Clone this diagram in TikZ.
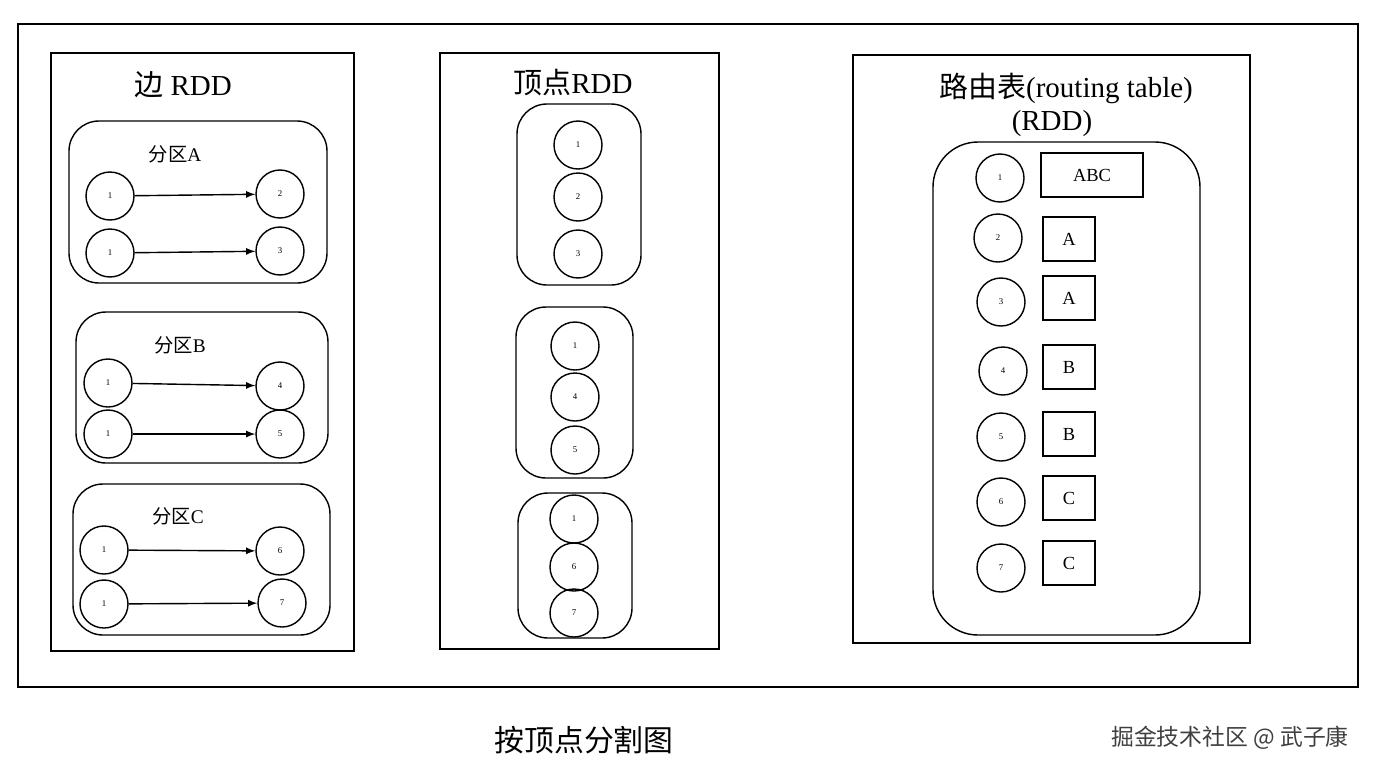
\documentclass[tikz,border=0pt]{standalone}
\usepackage{fontspec}
\setmainfont{Liberation Serif}
\newfontfamily\cjk{Noto Sans CJK SC}
\begin{document}
\begin{tikzpicture}[x=0.02cm,y=-0.02cm,
  vc/.style={draw,circle,minimum size=0.96cm,inner sep=0pt,font=\fontsize{5}{6}\selectfont,line width=0.8pt},
  part/.style={draw,rounded corners=0.6cm,line width=0.8pt},
  tag/.style={draw,minimum width=1.04cm,minimum height=0.88cm,inner sep=0pt,font=\fontsize{10.5}{12}\selectfont,line width=0.8pt},
  ttl/.style={font=\fontsize{16.5}{18}\selectfont},
  plab/.style={font=\fontsize{11}{12}\selectfont},
  ed/.style={-latex,line width=0.8pt}]
\useasboundingbox (0,0) rectangle (1376,772);
\draw[line width=0.6pt] (18,24) rectangle (1358,687);
% panel 1
\draw[line width=0.6pt] (51,53) rectangle (354,651);
\node[ttl] (t1) at (183,85) {{\cjk 边} RDD};
\draw[part] (69,121) rectangle (327,283);
\node[plab] (pa) at (175,154) {{\cjk 分区}A};
\node[vc] (a1) at (110,196) {1}; \node[vc] (a2) at (280,194) {2};
\node[vc] (a3) at (110,253) {1}; \node[vc] (a4) at (280,251) {3};
\draw[ed] (a1)--(a2); \draw[ed] (a3)--(a4);
\draw[part] (76,312) rectangle (328,463);
\node[plab] (pb) at (180,345) {{\cjk 分区}B};
\node[vc] (b1) at (108,383) {1}; \node[vc] (b2) at (280,386) {4};
\node[vc] (b3) at (108,434) {1}; \node[vc] (b4) at (280,434) {5};
\draw[ed] (b1)--(b2); \draw[ed] (b3)--(b4);
\draw[part] (73,484) rectangle (330,635);
\node[plab] (pc) at (178,516) {{\cjk 分区}C};
\node[vc] (c1) at (104,550) {1}; \node[vc] (c2) at (280,551) {6};
\node[vc] (c3) at (104,604) {1}; \node[vc] (c4) at (282,603) {7};
\draw[ed] (c1)--(c2); \draw[ed] (c3)--(c4);
% panel 2
\draw[line width=0.6pt] (440,53) rectangle (719,649);
\node[ttl] (t2) at (573,83) {{\cjk 顶点}RDD};
\draw[part] (517,104) rectangle (641,285);
\node[vc] (v1) at (578,145) {1}; \node[vc] (v2) at (578,197) {2}; \node[vc] (v3) at (578,254) {3};
\draw[part] (516,307) rectangle (633,478);
\node[vc] (v4) at (575,346) {1}; \node[vc] (v5) at (575,397) {4}; \node[vc] (v6) at (575,450) {5};
\draw[part] (518,493) rectangle (632,638);
\node[vc] (v7) at (574,519) {1}; \node[vc] (v8) at (574,567) {6}; \node[vc] (v9) at (574,613) {7};
% panel 3
\draw[line width=0.6pt] (853,55) rectangle (1250,643);
\node[ttl] (t3) at (1066,88) {{\cjk 路由表}(routing table)};
\node[ttl] (t4) at (1052,124) {(RDD)};
\draw[part,rounded corners=0.9cm] (933,142) rectangle (1200,635);
\node[vc] (r1) at (1000,178) {1}; \node[tag,minimum width=2.04cm] (s1) at (1092,175) {ABC};
\node[vc] (r2) at (998,238) {2}; \node[tag] (s2) at (1069,239) {A};
\node[vc] (r3) at (1001,302) {3}; \node[tag] (s3) at (1069,298) {A};
\node[vc] (r4) at (1003,371) {4}; \node[tag] (s4) at (1069,367) {B};
\node[vc] (r5) at (1001,437) {5}; \node[tag] (s5) at (1069,434) {B};
\node[vc] (r6) at (1001,502) {6}; \node[tag] (s6) at (1069,498) {C};
\node[vc] (r7) at (1001,568) {7}; \node[tag] (s7) at (1069,563) {C};
% captions
\node[font=\cjk\fontsize{17}{19}\selectfont] (cap) at (584,740) {按顶点分割图};
\node[font=\cjk\fontsize{13}{15}\selectfont,text=black!75] (wm) at (1230,738) {掘金技术社区 @ 武子康};
\end{tikzpicture}
\end{document}
